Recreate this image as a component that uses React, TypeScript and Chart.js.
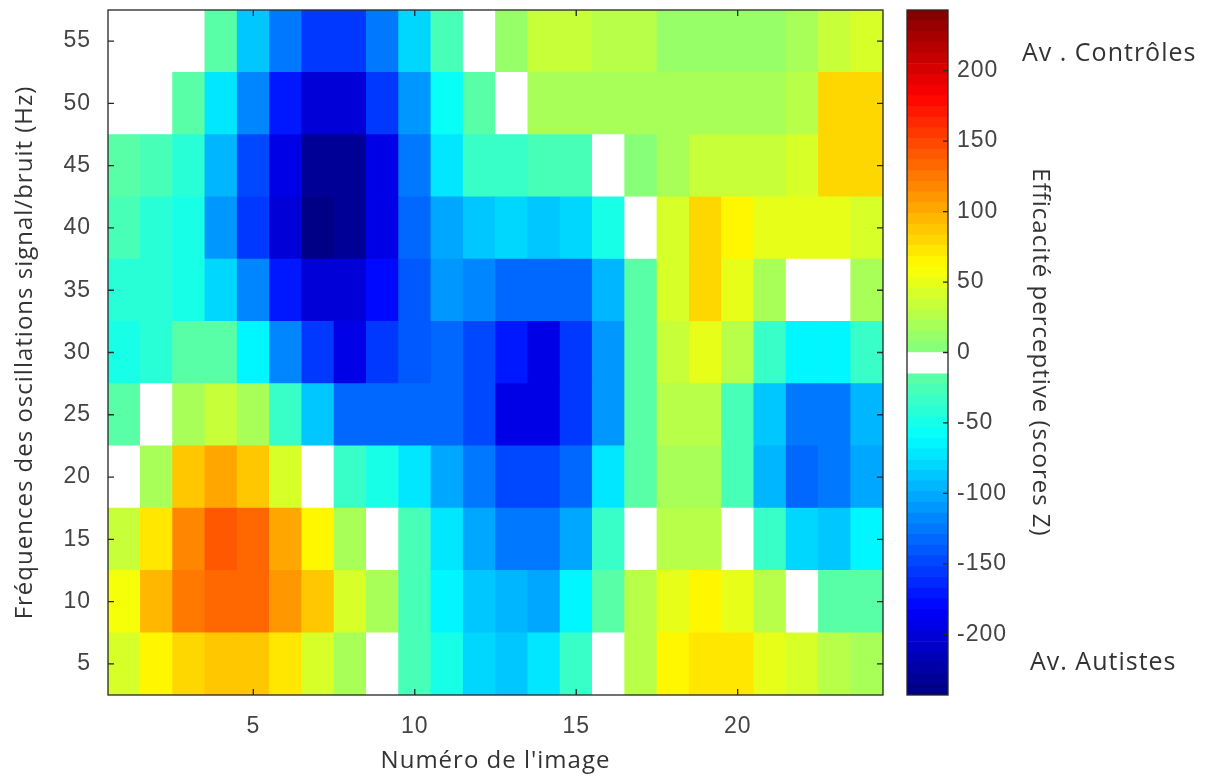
import React, { useEffect, useRef } from "react";
import { Chart, registerables } from "chart.js";

Chart.register(...registerables);

// ---------- data ----------
const imageNumbers = [1, 2, 3, 4, 5, 6, 7, 8, 9, 10, 11, 12, 13, 14, 15, 16, 17, 18, 19, 20, 21, 22, 23, 24];
const frequencies = [55, 50, 45, 40, 35, 30, 25, 20, 15, 10, 5];
const frequencyStep = 5;

// perceptual efficiency (Z scores), one array per frequency row, images 1..24
const scoresF55 = [-7, -7, -7, -20, -85, -122, -158, -152, -126, -77, -28, -7, 12, 36, 36, 28, 28, 12, 12, 12, 12, 20, 36, 38];
const scoresF50 = [-7, -7, -20, -69, -118, -174, -198, -198, -158, -109, -58, -20, -7, 20, 20, 20, 20, 20, 20, 20, 20, 28, 77, 77];
const scoresF45 = [-20, -24, -45, -93, -150, -190, -231, -231, -190, -126, -69, -36, -36, -28, -28, -7, 4, 20, 36, 36, 36, 45, 77, 77];
const scoresF40 = [-28, -45, -53, -109, -158, -198, -240, -231, -190, -134, -101, -85, -77, -85, -77, -53, -7, 45, 77, 61, 53, 50, 48, 45];
const scoresF35 = [-45, -45, -53, -77, -118, -174, -198, -198, -182, -142, -109, -118, -134, -134, -134, -93, -20, 45, 83, 53, 20, -7, -7, 20];
const scoresF30 = [-53, -45, -20, -20, -61, -118, -158, -190, -158, -142, -134, -150, -174, -190, -158, -109, -20, 36, 53, 28, -36, -61, -61, -36];
const scoresF25 = [-20, -7, 20, 36, 20, -36, -85, -134, -134, -134, -134, -150, -190, -190, -158, -109, -20, 28, 28, -28, -85, -126, -126, -93];
const scoresF20 = [-7, 20, 85, 101, 85, 45, -7, -36, -53, -69, -101, -126, -150, -150, -134, -69, -20, 20, 20, -28, -93, -134, -126, -101];
const scoresF15 = [36, 72, 118, 142, 134, 101, 61, 20, -7, -28, -69, -101, -126, -126, -101, -36, -7, 28, 28, -7, -36, -77, -85, -61];
const scoresF10 = [60, 93, 126, 134, 134, 109, 85, 45, 20, -28, -61, -85, -93, -101, -61, -20, 28, 53, 61, 53, 28, -7, -20, -20];
const scoresF5 = [45, 61, 77, 85, 85, 69, 45, 20, -7, -28, -53, -77, -85, -69, -36, -7, 28, 61, 73, 73, 53, 45, 28, 20];

const scoreRows = [scoresF55, scoresF50, scoresF45, scoresF40, scoresF35, scoresF30, scoresF25, scoresF20, scoresF15, scoresF10, scoresF5];

const xTickValues = [5, 10, 15, 20];
const yTickValues = [5, 10, 15, 20, 25, 30, 35, 40, 45, 50, 55];
const colorTickValues = [-200, -150, -100, -50, 0, 50, 100, 150, 200];

const colorMin = -243;
const colorMax = 243;
const colorLevels = 64;
const whiteLevels = [30, 31];

// ---------- colormap (jet with a white band around zero) ----------
const clamp01 = (v: number) => Math.max(0, Math.min(1, v));
function levelColor(i: number): string {
  if (whiteLevels.includes(i)) return "#ffffff";
  const t = (i + 0.5) / colorLevels;
  const r = clamp01(1.5 - Math.abs(4 * t - 3));
  const g = clamp01(1.5 - Math.abs(4 * t - 2));
  const b = clamp01(1.5 - Math.abs(4 * t - 1));
  return `rgb(${Math.round(r * 255)},${Math.round(g * 255)},${Math.round(b * 255)})`;
}
function valueColor(v: number): string {
  let i = Math.floor(((v - colorMin) / (colorMax - colorMin)) * colorLevels);
  i = Math.max(0, Math.min(colorLevels - 1, i));
  return levelColor(i);
}

const TICK_FONT = { family: "'Liberation Sans', Arial, sans-serif", size: 23, lineHeight: 1 };
const TITLE_FONT = { family: "'Open Sans', sans-serif", size: 24, lineHeight: 1 };
const TICK_COLOR = "#444444";
const TITLE_COLOR = "#333333";

const spacing = {
  id: "spacing",
  beforeDraw(chart: any) {
    chart.ctx.letterSpacing = "1px";
  },
};

const noScalePadding = (s: any) => {
  s.paddingTop = 0;
  s.paddingBottom = 0;
  s.paddingLeft = 0;
  s.paddingRight = 0;
};

const heatFrame = {
  id: "heatFrame",
  afterDatasetsDraw(chart: any) {
    const { ctx, chartArea: a } = chart;
    const xs = chart.scales.x;
    const ys = chart.scales.y;
    const L = 6;
    ctx.save();
    ctx.strokeStyle = "#262626";
    ctx.lineWidth = 1.3;
    ctx.strokeRect(a.left, a.top, a.right - a.left, a.bottom - a.top);
    ctx.beginPath();
    xs.ticks.forEach((t: any) => {
      const px = xs.getPixelForValue(t.value);
      ctx.moveTo(px, a.bottom);
      ctx.lineTo(px, a.bottom - L);
      ctx.moveTo(px, a.top);
      ctx.lineTo(px, a.top + L);
    });
    ys.ticks.forEach((t: any) => {
      const py = ys.getPixelForValue(t.value);
      ctx.moveTo(a.left, py);
      ctx.lineTo(a.left + L, py);
      ctx.moveTo(a.right, py);
      ctx.lineTo(a.right - L, py);
    });
    ctx.stroke();
    ctx.restore();
  },
};

const barFrame = {
  id: "barFrame",
  afterDatasetsDraw(chart: any) {
    const { ctx, chartArea: a } = chart;
    const ys = chart.scales.y;
    ctx.save();
    ctx.strokeStyle = "#262626";
    ctx.lineWidth = 1.3;
    ctx.strokeRect(a.left, a.top, a.right - a.left, a.bottom - a.top);
    ctx.beginPath();
    ys.ticks.forEach((t: any) => {
      const py = ys.getPixelForValue(t.value);
      ctx.moveTo(a.right, py);
      ctx.lineTo(a.right - 5, py);
    });
    ctx.stroke();
    ctx.restore();
  },
  afterDraw(chart: any) {
    const { ctx } = chart;
    ctx.save();
    ctx.fillStyle = TITLE_COLOR;
    ctx.font = "25px 'Open Sans', sans-serif";
    ctx.textBaseline = "middle";
    ctx.textAlign = "left";
    ctx.fillText("Av . Contrôles", 134, 46);
    ctx.fillText("Av. Autistes", 142, 655);
    ctx.restore();
  },
};

export default function App() {
  const heatRef = useRef<HTMLCanvasElement>(null);
  const barRef = useRef<HTMLCanvasElement>(null);

  useEffect(() => {
    const cells: any[] = [];
    const colors: string[] = [];
    frequencies.forEach((f, ri) => {
      scoreRows[ri].forEach((v, ci) => {
        cells.push({ x: imageNumbers[ci], y: [f - frequencyStep / 2, f + frequencyStep / 2], v });
        colors.push(valueColor(v));
      });
    });

    const heat = new Chart(heatRef.current as HTMLCanvasElement, {
      type: "bar",
      data: {
        datasets: [
          {
            data: cells,
            backgroundColor: colors,
            borderWidth: 0,
            barPercentage: 1,
            categoryPercentage: 1,
          } as any,
        ],
      },
      options: {
        responsive: false,
        animation: false,
        events: [],
        layout: { padding: { left: 0, top: 2, right: 5, bottom: 0 } },
        plugins: { legend: { display: false }, tooltip: { enabled: false } },
        scales: {
          x: {
            type: "linear",
            min: imageNumbers[0] - 0.5,
            max: imageNumbers[imageNumbers.length - 1] + 0.5,
            offset: false,
            grid: { display: false, drawTicks: false },
            border: { display: false },
            afterBuildTicks: (s: any) => {
              s.ticks = xTickValues.map((value) => ({ value }));
            },
            afterFit: (s: any) => {
              s.height = 81;
              noScalePadding(s);
            },
            ticks: { font: TICK_FONT, color: TICK_COLOR, padding: 20, maxRotation: 0, autoSkip: false },
            title: {
              display: true,
              text: "Numéro de l'image",
              font: TITLE_FONT,
              color: TITLE_COLOR,
              padding: { top: 0, bottom: 3 },
            },
          },
          y: {
            type: "linear",
            min: frequencies[frequencies.length - 1] - frequencyStep / 2,
            max: frequencies[0] + frequencyStep / 2,
            grid: { display: false, drawTicks: false },
            border: { display: false },
            afterBuildTicks: (s: any) => {
              s.ticks = yTickValues.map((value) => ({ value }));
            },
            afterFit: (s: any) => {
              s.width = 100;
              noScalePadding(s);
            },
            ticks: { font: TICK_FONT, color: TICK_COLOR, padding: 17, autoSkip: false },
            title: {
              display: true,
              text: "Fréquences des oscillations signal/bruit (Hz)",
              font: TITLE_FONT,
              color: TITLE_COLOR,
              padding: { top: 5, bottom: 0 },
            },
          },
        },
      },
      plugins: [spacing, heatFrame],
    } as any);

    const levelDatasets = Array.from({ length: colorLevels }, (_, i) => {
      const step = (colorMax - colorMin) / colorLevels;
      return {
        data: [[colorMin + i * step, colorMin + (i + 1) * step]],
        backgroundColor: levelColor(i),
        borderWidth: 0,
        barPercentage: 1,
        categoryPercentage: 1,
        grouped: false,
      };
    });

    const bar = new Chart(barRef.current as HTMLCanvasElement, {
      type: "bar",
      data: { labels: [""], datasets: levelDatasets as any },
      options: {
        responsive: false,
        animation: false,
        events: [],
        layout: { padding: { left: 19, top: 2, right: 0, bottom: 81 } },
        plugins: { legend: { display: false }, tooltip: { enabled: false } },
        scales: {
          x: { display: false },
          y: {
            type: "linear",
            position: "right",
            min: colorMin,
            max: colorMax,
            grid: { display: false, drawTicks: false },
            border: { display: false },
            afterBuildTicks: (s: any) => {
              s.ticks = colorTickValues.map((value) => ({ value }));
            },
            afterFit: (s: any) => {
              s.width = 252;
              noScalePadding(s);
            },
            ticks: { font: TICK_FONT, color: TICK_COLOR, padding: 9, autoSkip: false },
            title: {
              display: true,
              text: "Efficacité perceptive (scores Z)",
              font: { family: "'Open Sans', sans-serif", size: 24, lineHeight: 1 },
              color: TITLE_COLOR,
              padding: { top: 148, bottom: 0 },
            },
          },
        },
      },
      plugins: [spacing, barFrame],
    } as any);

    return () => {
      heat.destroy();
      bar.destroy();
    };
  }, []);

  return (
    <div style={{ position: "relative", width: 1192, height: 768 }}>
      <canvas ref={heatRef} width={880} height={768} style={{ position: "absolute", left: 0, top: 0, display: "block" }} />
      <canvas ref={barRef} width={312} height={768} style={{ position: "absolute", left: 880, top: 0, display: "block" }} />
    </div>
  );
}
